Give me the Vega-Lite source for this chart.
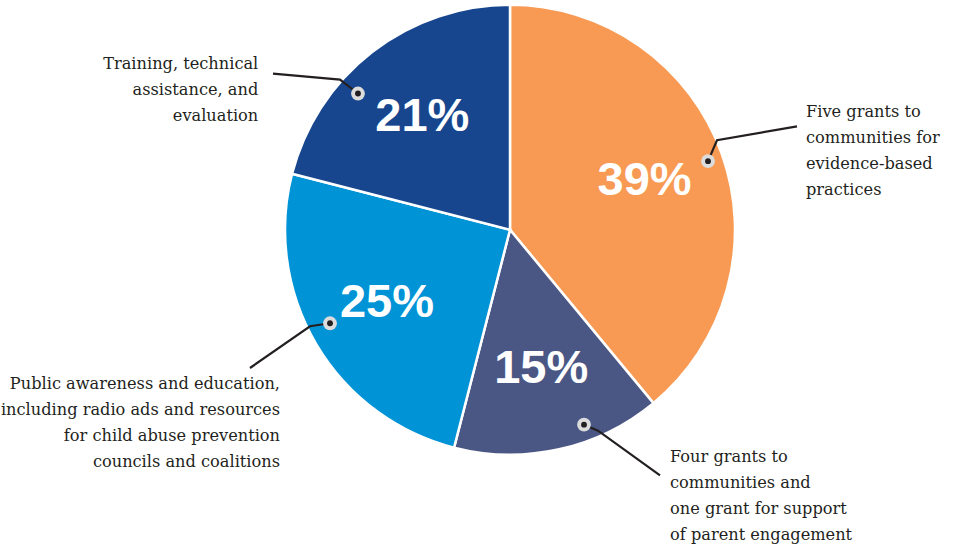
{
  "$schema": "https://vega.github.io/schema/vega-lite/v6.json",
  "width": 957,
  "height": 551,
  "autosize": {"type": "fit", "contains": "padding"},
  "padding": 0,
  "background": "#ffffff",
  "config": {"view": {"stroke": null}},
  "datasets": {
    "slices": [
      {"category": "Five grants to communities for evidence-based practices", "share": 0.39, "rank": 1},
      {"category": "Four grants to communities and one grant for support of parent engagement", "share": 0.15, "rank": 2},
      {"category": "Public awareness and education, including radio ads and resources for child abuse prevention councils and coalitions", "share": 0.25, "rank": 3},
      {"category": "Training, technical assistance, and evaluation", "share": 0.21, "rank": 4}
    ],
    "leaders": [
      {"slice": "39", "seq": 0, "x": 0.88, "y": 0.3067},
      {"slice": "39", "seq": 1, "x": 0.92, "y": 0.40},
      {"slice": "39", "seq": 2, "x": 1.2756, "y": 0.4622},
      {"slice": "15", "seq": 0, "x": 0.3289, "y": -0.8711},
      {"slice": "15", "seq": 1, "x": 0.3911, "y": -0.8978},
      {"slice": "15", "seq": 2, "x": 0.6667, "y": -1.0978},
      {"slice": "25", "seq": 0, "x": -0.80, "y": -0.4178},
      {"slice": "25", "seq": 1, "x": -0.8889, "y": -0.4311},
      {"slice": "25", "seq": 2, "x": -1.1556, "y": -0.6178},
      {"slice": "21", "seq": 0, "x": -0.6756, "y": 0.6089},
      {"slice": "21", "seq": 1, "x": -0.7556, "y": 0.6711},
      {"slice": "21", "seq": 2, "x": -1.0533, "y": 0.6978}
    ],
    "callouts": [
      {"text": "Five grants to\ncommunities for\nevidence-based\npractices", "side": "right", "x": 1.3156, "y": 0.5022},
      {"text": "Four grants to\ncommunities and\none grant for support\nof parent engagement", "side": "right", "x": 0.7111, "y": -1.0378},
      {"text": "Public awareness and education,\nincluding radio ads and resources\nfor child abuse prevention\ncouncils and coalitions", "side": "left", "x": -1.0222, "y": -0.7124},
      {"text": "Training, technical\nassistance, and\nevaluation", "side": "left", "x": -1.1187, "y": 0.7169}
    ]
  },
  "layer": [
    {
      "data": {"name": "slices"},
      "mark": {"type": "arc", "outerRadius": 225, "stroke": "#ffffff", "strokeWidth": 2.5},
      "encoding": {
        "x": {"datum": 0, "type": "quantitative", "scale": {"domain": [-2.266667, 1.986667], "nice": false, "zero": false}, "axis": null},
        "y": {"datum": 0, "type": "quantitative", "scale": {"domain": [-1.435556, 1.013333], "nice": false, "zero": false}, "axis": null},
        "theta": {"field": "share", "type": "quantitative", "stack": true},
        "order": {"field": "rank", "type": "quantitative"},
        "color": {
          "field": "category", "type": "nominal", "legend": null,
          "scale": {
            "domain": [
              "Five grants to communities for evidence-based practices",
              "Four grants to communities and one grant for support of parent engagement",
              "Public awareness and education, including radio ads and resources for child abuse prevention councils and coalitions",
              "Training, technical assistance, and evaluation"
            ],
            "range": ["#F89A54", "#4A5784", "#0093D6", "#17468E"]
          }
        }
      }
    },
    {
      "data": {"name": "slices"},
      "mark": {"type": "text", "radius": 143, "font": "Liberation Sans", "fontWeight": "bold", "fontSize": 47, "color": "#ffffff", "align": "center", "baseline": "middle"},
      "encoding": {
        "x": {"datum": 0, "type": "quantitative"},
        "y": {"datum": 0, "type": "quantitative"},
        "theta": {"field": "share", "type": "quantitative", "stack": true},
        "order": {"field": "rank", "type": "quantitative"},
        "text": {"field": "share", "type": "quantitative", "format": ".0%"}
      }
    },
    {
      "data": {"name": "leaders"},
      "mark": {"type": "line", "color": "#231F20", "strokeWidth": 2.2, "interpolate": "linear"},
      "encoding": {
        "x": {"field": "x", "type": "quantitative"},
        "y": {"field": "y", "type": "quantitative"},
        "detail": {"field": "slice", "type": "nominal"},
        "order": {"field": "seq", "type": "quantitative"}
      }
    },
    {
      "data": {"name": "leaders"},
      "transform": [{"filter": "datum.seq == 0"}],
      "mark": {"type": "point", "shape": "circle", "filled": true, "size": 190, "color": "#DCDCDC", "opacity": 1},
      "encoding": {
        "x": {"field": "x", "type": "quantitative"},
        "y": {"field": "y", "type": "quantitative"}
      }
    },
    {
      "data": {"name": "leaders"},
      "transform": [{"filter": "datum.seq == 0"}],
      "mark": {"type": "point", "shape": "circle", "filled": true, "size": 34, "color": "#231F20", "opacity": 1},
      "encoding": {
        "x": {"field": "x", "type": "quantitative"},
        "y": {"field": "y", "type": "quantitative"}
      }
    },
    {
      "data": {"name": "callouts"},
      "transform": [{"filter": "datum.side == 'right'"}],
      "mark": {"type": "text", "align": "left", "baseline": "alphabetic", "font": "DejaVu Serif", "fontSize": 16.2, "lineHeight": 26, "lineBreak": "\n", "color": "#231F20"},
      "encoding": {
        "x": {"field": "x", "type": "quantitative"},
        "y": {"field": "y", "type": "quantitative"},
        "text": {"field": "text", "type": "nominal"}
      }
    },
    {
      "data": {"name": "callouts"},
      "transform": [{"filter": "datum.side == 'left'"}],
      "mark": {"type": "text", "align": "right", "baseline": "alphabetic", "font": "DejaVu Serif", "fontSize": 16.2, "lineHeight": 26, "lineBreak": "\n", "color": "#231F20"},
      "encoding": {
        "x": {"field": "x", "type": "quantitative"},
        "y": {"field": "y", "type": "quantitative"},
        "text": {"field": "text", "type": "nominal"}
      }
    }
  ]
}
